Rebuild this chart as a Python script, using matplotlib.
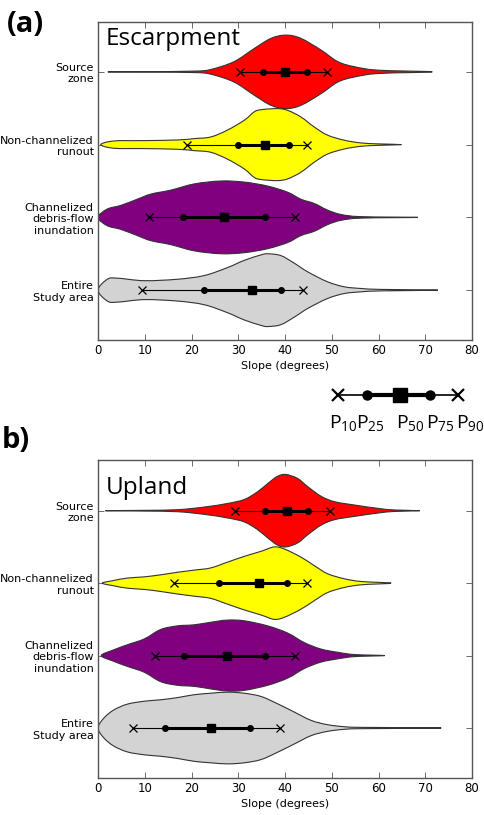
import matplotlib
matplotlib.use("Agg")
import matplotlib.pyplot as plt
from matplotlib.path import Path
from matplotlib.patches import PathPatch
import numpy as np

plt.rcParams['font.family'] = ['DejaVu Sans']
plt.rcParams['mathtext.fontset'] = 'custom'
plt.rcParams['mathtext.rm'] = 'Open Sans'
plt.rcParams['mathtext.it'] = 'Open Sans:italic'

# ---------------- data ----------------
categories = ['Source\nzone', 'Non-channelized\nrunout',
              'Channelized\ndebris-flow\ninundation', 'Entire\nStudy area']
colors = ['#ff0000', '#ffff00', '#800080', '#d3d3d3']
xticks = [0, 10, 20, 30, 40, 50, 60, 70, 80]

# Escarpment violin outlines: slope (deg) and half-width
esc_src_deg = [2.1, 10, 20.6, 24.1, 29.1, 33.4, 37.0, 40.2, 43.4, 47.7, 51.3, 54.9, 59.9, 71.5]
esc_src_hw = [0, 0.002, 0.01, 0.032, 0.14, 0.32, 0.46, 0.505, 0.46, 0.30, 0.14, 0.07, 0.023, 0]
esc_run_deg = [0.6, 3.4, 9.9, 17.0, 20.6, 24.1, 27.7, 31.3, 33.4, 34.9, 38.4, 40.6, 43.4, 46.3, 49.1, 52.7, 56.3, 60.0, 64.9]
esc_run_hw = [0, 0.05, 0.055, 0.064, 0.083, 0.105, 0.2, 0.335, 0.45, 0.48, 0.495, 0.47, 0.38, 0.24, 0.13, 0.06, 0.023, 0.01, 0]
esc_chan_deg = [0, 2.0, 4.9, 8.4, 11.3, 15.6, 20.6, 26.3, 31.3, 36.3, 40.6, 43.4, 46.3, 49.1, 52.0, 56.3, 68.4]
esc_chan_hw = [0, 0.115, 0.165, 0.25, 0.32, 0.375, 0.46, 0.5, 0.485, 0.43, 0.345, 0.25, 0.19, 0.1, 0.04, 0.01, 0]
esc_all_deg = [0, 2.0, 4.1, 9.9, 17.0, 22.7, 27.7, 31.3, 34.9, 36.3, 39.1, 42.0, 44.9, 49.1, 52.7, 56.3, 60.6, 72.7]
esc_all_hw = [0, 0.15, 0.165, 0.13, 0.15, 0.2, 0.31, 0.41, 0.485, 0.5, 0.475, 0.37, 0.25, 0.115, 0.046, 0.023, 0.01, 0]

# Upland violin outlines
upl_src_deg = [1.6, 9.9, 17.0, 22.7, 27.7, 31.3, 34.1, 36.3, 38.4, 40.2, 42.7, 44.9, 47.7, 50.6, 54.9, 59.9, 63.4, 68.8]
upl_src_hw = [0, 0.005, 0.014, 0.05, 0.1, 0.155, 0.26, 0.375, 0.475, 0.5, 0.445, 0.33, 0.2, 0.124, 0.078, 0.032, 0.01, 0]
upl_run_deg = [0.9, 3.4, 6.3, 9.9, 13.4, 17.0, 20.6, 24.1, 27.7, 31.3, 34.9, 37.7, 39.9, 43.4, 46.3, 49.1, 52.7, 56.3, 62.7]
upl_run_hw = [0, 0.037, 0.07, 0.087, 0.115, 0.15, 0.18, 0.21, 0.29, 0.37, 0.44, 0.5, 0.47, 0.36, 0.24, 0.13, 0.06, 0.023, 0]
upl_chan_deg = [0.7, 3.4, 6.3, 9.9, 13.4, 17.0, 20.6, 24.1, 27.7, 31.3, 36.3, 40.6, 44.1, 47.7, 51.3, 54.9, 61.3]
upl_chan_hw = [0, 0.08, 0.15, 0.23, 0.36, 0.41, 0.425, 0.46, 0.49, 0.48, 0.41, 0.31, 0.18, 0.09, 0.045, 0.014, 0]
upl_all_deg = [0, 1.3, 3.4, 6.3, 9.9, 13.4, 17.0, 20.6, 24.1, 27.7, 31.3, 34.9, 38.4, 42.0, 45.6, 49.1, 52.7, 56.3, 73.4]
upl_all_hw = [0, 0.14, 0.25, 0.33, 0.37, 0.39, 0.42, 0.46, 0.48, 0.495, 0.48, 0.435, 0.335, 0.22, 0.105, 0.046, 0.018, 0.009, 0]

# Percentiles (P10, P25, P50, P75, P90) per category
esc_p10 = [30.4, 19.0, 10.9, 9.5]
esc_p25 = [35.4, 29.9, 18.1, 22.7]
esc_p50 = [40.1, 35.8, 27.0, 32.9]
esc_p75 = [44.7, 40.9, 35.8, 39.1]
esc_p90 = [49.0, 44.7, 42.1, 43.9]

upl_p10 = [29.4, 16.3, 12.1, 7.5]
upl_p25 = [35.8, 25.8, 18.4, 14.3]
upl_p50 = [40.4, 34.5, 27.5, 24.1]
upl_p75 = [44.9, 40.4, 35.8, 32.6]
upl_p90 = [49.7, 44.7, 42.2, 39.0]

legend_labels = [r'$\mathrm{P}_{10}$', r'$\mathrm{P}_{25}$', r'$\mathrm{P}_{50}$',
                 r'$\mathrm{P}_{75}$', r'$\mathrm{P}_{90}$']

# ---------------- figure ----------------
W, H = 484, 815
fig = plt.figure(figsize=(W / 100, H / 100), dpi=100)


def px_axes(left, top, right, bottom):
    return fig.add_axes([left / W, 1 - bottom / H, (right - left) / W, (bottom - top) / H])


def smooth_closed_path(xs, ys):
    """Closed Catmull-Rom spline through the points, as cubic Bezier path."""
    P = np.column_stack([xs, ys])
    n = len(P)
    verts = [P[0]]
    codes = [Path.MOVETO]
    for i in range(n):
        p0 = P[(i - 1) % n]
        p1 = P[i]
        p2 = P[(i + 1) % n]
        p3 = P[(i + 2) % n]
        c1 = p1 + (p2 - p0) / 6.0
        c2 = p2 - (p3 - p1) / 6.0
        verts += [c1, c2, p2]
        codes += [Path.CURVE4] * 3
    verts.append(P[0])
    codes.append(Path.CLOSEPOLY)
    return Path(np.array(verts), codes)


def violin(ax, deg, hw, pos, color):
    deg = np.asarray(deg, float)
    hw = np.asarray(hw, float)
    xs = np.concatenate([deg, deg[-2:0:-1]])
    ys = np.concatenate([pos - hw, (pos + hw)[-2:0:-1]])
    patch = PathPatch(smooth_closed_path(xs, ys), facecolor=color,
                      edgecolor='#333333', linewidth=0.8, zorder=2)
    ax.add_patch(patch)


def draw_panel(ax, outlines, p10, p25, p50, p75, p90, title, ylim, title_y):
    for i, (deg, hw) in enumerate(outlines):
        violin(ax, deg, hw, i, colors[i])
    pos = np.arange(len(categories))
    for i in pos:
        ax.plot([p10[i], p90[i]], [i, i], color='black', lw=0.8, zorder=3)
        ax.plot([p25[i], p75[i]], [i, i], color='black', lw=2.2, zorder=3)
    ax.plot(p10, pos, 'x', color='black', ms=6, mew=0.9, zorder=4)
    ax.plot(p90, pos, 'x', color='black', ms=6, mew=0.9, zorder=4)
    ax.plot(p25, pos, 'o', color='black', ms=4, zorder=4)
    ax.plot(p75, pos, 'o', color='black', ms=4, zorder=4)
    ax.plot(p50, pos, 's', color='black', ms=5.5, zorder=5)
    ax.set_xlim(0, 80)
    ax.set_ylim(*ylim)
    ax.set_xticks(xticks)
    ax.set_yticks(pos)
    ax.set_yticklabels(categories, fontsize=8)
    ax.tick_params(axis='x', labelsize=8.5)
    ax.tick_params(direction='in', top=True, right=True, length=4, width=0.6,
                   color='#555555', pad=3)
    ax.set_xlabel('Slope (degrees)', fontsize=8, labelpad=3)
    for s in ax.spines.values():
        s.set_color('#555555')
        s.set_linewidth(1.0)
    ax.text(0.02, title_y, title, transform=ax.transAxes, ha='left', va='top',
            fontsize=17.5, family='Open Sans')


ax1 = px_axes(98, 22, 472, 340)
draw_panel(ax1, [(esc_src_deg, esc_src_hw), (esc_run_deg, esc_run_hw),
                 (esc_chan_deg, esc_chan_hw), (esc_all_deg, esc_all_hw)],
           esc_p10, esc_p25, esc_p50, esc_p75, esc_p90, 'Escarpment', (3.685, -0.685), 0.985)

ax2 = px_axes(98, 460, 472, 778)
draw_panel(ax2, [(upl_src_deg, upl_src_hw), (upl_run_deg, upl_run_hw),
                 (upl_chan_deg, upl_chan_hw), (upl_all_deg, upl_all_hw)],
           upl_p10, upl_p25, upl_p50, upl_p75, upl_p90, 'Upland', (3.69, -0.70), 0.95)

# panel labels
fig.text(7 / W, 1 - 10 / H, '(a)', fontsize=21, fontweight='bold', family='Open Sans',
         ha='left', va='top')
fig.text(2 / W, 1 - 426 / H, 'b)', fontsize=21, fontweight='bold', family='Open Sans',
         ha='left', va='top')

# percentile key (axes spans figure pixels 320..484 horizontally, 375..440 vertically)
axl = px_axes(320, 375, 484, 440)
axl.set_xlim(320, 484)
axl.set_ylim(440, 375)
axl.axis('off')
key_x = [338.3, 366.7, 400.0, 430.0, 458.3]
key_label_x = [329.0, 356.0, 396.0, 426.5, 456.5]
axl.plot([key_x[0], key_x[4]], [395, 395], color='black', lw=1.2)
axl.plot([key_x[1], key_x[3]], [395, 395], color='black', lw=3)
axl.plot([key_x[0], key_x[4]], [395, 395], 'x', color='black', ms=8, mew=1.6, ls='none')
axl.plot([key_x[1], key_x[3]], [395, 395], 'o', color='black', ms=6.5, ls='none')
axl.plot([key_x[2]], [395], 's', color='black', ms=10, ls='none')
for xv, lab in zip(key_label_x, legend_labels):
    axl.text(xv, 428, lab, fontsize=14, ha='left', va='baseline')

fig.savefig('out.png', dpi=100)
